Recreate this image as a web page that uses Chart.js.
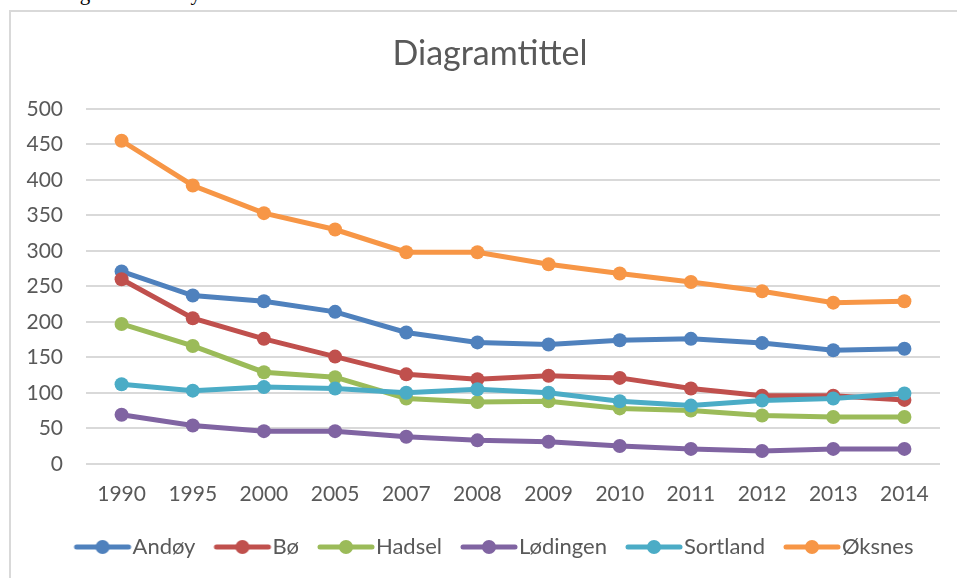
<!DOCTYPE html>
<html>
<head>
<meta charset="utf-8">
<script src="https://cdn.jsdelivr.net/npm/chart.js@4"></script>
<style>
  html, body { margin: 0; padding: 0; background: #fff; overflow: hidden; }
  #doc { position: absolute; left: 22px; top: -19px; font-family: "Liberation Serif", serif; font-size: 21px; color: #000; white-space: nowrap; }
  #frame { position: absolute; left: 9px; top: 10px; width: 960px; height: 580px; border-left: 2px solid #d9d9d9; border-top: 2px solid #d9d9d9; }
  #wrap { position: absolute; left: 0; top: 0; width: 957px; height: 578px; }
</style>
</head>
<body>
<div id="doc">Antall gårdsbruk i by.</div>
<div id="frame"></div>
<div id="wrap"><canvas id="chart" width="957" height="578"></canvas></div>
<script>
document.addEventListener("DOMContentLoaded", function () {
  const years = ["1990", "1995", "2000", "2005", "2007", "2008", "2009", "2010", "2011", "2012", "2013", "2014"];
  const andoy = [271, 237, 229, 214, 185, 171, 168, 174, 176, 170, 160, 162];
  const bo = [260, 205, 176, 151, 126, 119, 124, 121, 106, 96, 96, 90];
  const hadsel = [197, 166, 129, 122, 92, 87, 88, 78, 75, 68, 66, 66];
  const lodingen = [69, 54, 46, 46, 38, 33, 31, 25, 21, 18, 21, 21];
  const sortland = [112, 103, 108, 106, 100, 105, 100, 88, 82, 89, 92, 99];
  const oksnes = [455, 392, 353, 330, 298, 298, 281, 268, 256, 243, 227, 229];

  const names = ["Andøy", "Bø", "Hadsel", "Lødingen", "Sortland", "Øksnes"];
  const colors = ["#4F81BD", "#C0504D", "#9BBB59", "#8064A2", "#4BACC6", "#F79646"];
  const values = [andoy, bo, hadsel, lodingen, sortland, oksnes];

  const fontName = "Lato, 'Open Sans', sans-serif";
  const grey = "#595959";

  // legend symbol: line with a dot in the middle, shifted right so it runs up to the text
  function legendIcon(color) {
    const c = document.createElement("canvas");
    c.width = 79;
    c.height = 16;
    const g = c.getContext("2d");
    g.strokeStyle = color;
    g.lineWidth = 5;
    g.lineCap = "round";
    g.beginPath();
    g.moveTo(22, 8);
    g.lineTo(74, 8);
    g.stroke();
    g.fillStyle = color;
    g.beginPath();
    g.arc(48, 8, 7, 0, Math.PI * 2);
    g.fill();
    return c;
  }

  const datasets = names.map((name, i) => ({
    label: name,
    data: values[i],
    borderColor: colors[i],
    backgroundColor: colors[i],
    borderWidth: 5,
    pointRadius: 7,
    pointHoverRadius: 7,
    pointBorderWidth: 0,
    pointBackgroundColor: colors[i],
    pointStyle: "circle",
    legendIcon: legendIcon(colors[i]),
    order: names.length - i,
    tension: 0
  }));

  const ctx = document.getElementById("chart");
  const chart = new Chart(ctx, {
    type: "line",
    data: {
      labels: years,
      datasets: datasets
    },
    options: {
      responsive: false,
      animation: false,
      layout: {
        padding: { left: 40, right: 17, top: 0, bottom: 10 }
      },
      scales: {
        x: {
          offset: true,
          grid: { display: false, drawTicks: false },
          border: { display: false },
          ticks: { color: grey, padding: 18, font: { family: fontName, size: 21 } }
        },
        y: {
          min: 0,
          max: 500,
          afterFit: function (scale) {
            scale.width = 46;
            // labels sit left of the narrowed axis box, so don't clip them
            scale._computeLabelArea = () => undefined;
          },
          grid: { color: "#d9d9d9", lineWidth: 2, drawTicks: false },
          border: { display: false },
          ticks: { stepSize: 50, color: grey, padding: 23, font: { family: fontName, size: 21 } }
        }
      },
      plugins: {
        title: {
          display: true,
          text: "Diagramtittel",
          color: grey,
          font: { family: fontName, size: 34, weight: "normal" },
          padding: { top: 34, bottom: 34 }
        },
        legend: {
          position: "bottom",
          labels: {
            usePointStyle: true,
            pointStyleWidth: 55,
            padding: 11,
            color: grey,
            font: { family: fontName, size: 22 },
            generateLabels: function (c) {
              return c.data.datasets.map((ds, i) => ({
                text: ds.label,
                fillStyle: ds.borderColor,
                strokeStyle: ds.borderColor,
                fontColor: grey,
                lineWidth: 0,
                pointStyle: ds.legendIcon,
                hidden: false,
                datasetIndex: i
              }));
            }
          }
        },
        tooltip: { enabled: false }
      }
    }
  });
});
</script>
</body>
</html>
